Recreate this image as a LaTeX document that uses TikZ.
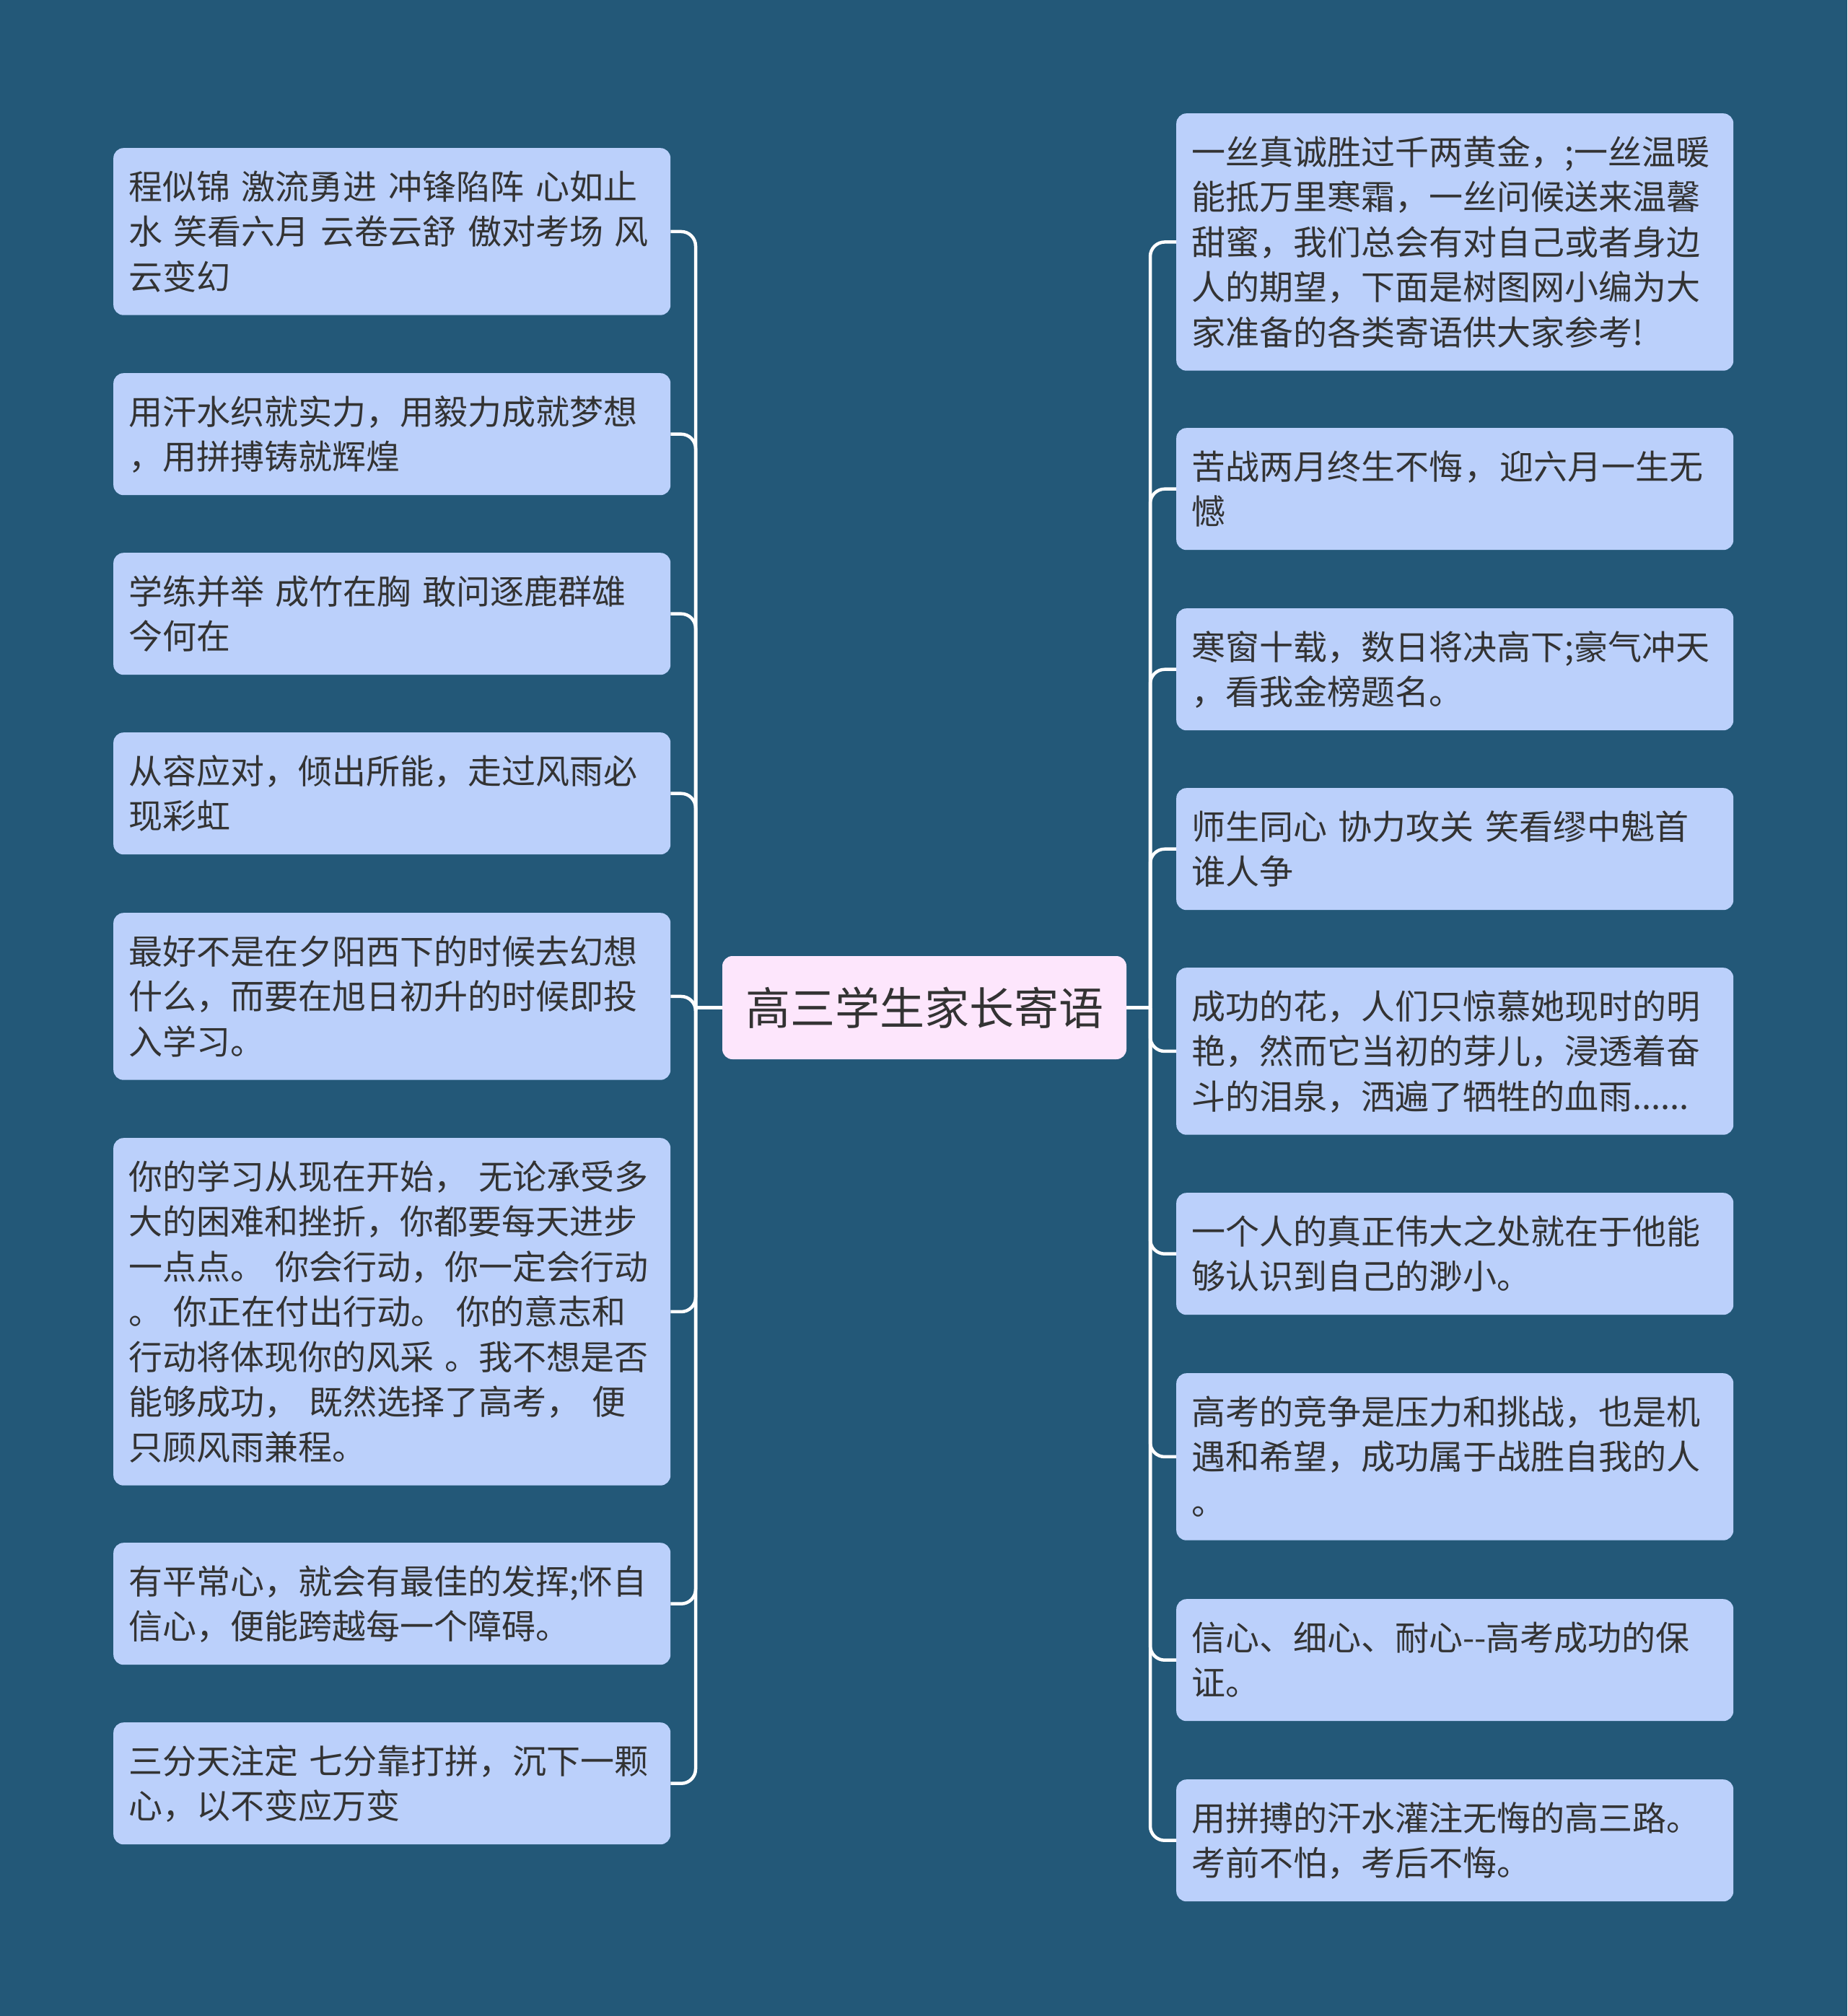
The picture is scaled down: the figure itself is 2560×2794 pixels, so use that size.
\documentclass[tikz,border=0pt]{standalone}
\usepackage{fontspec}
\setmainfont{Noto Sans CJK SC}
\setlength\parindent{0pt}
\definecolor{bg}{HTML}{235878}
\definecolor{leafc}{HTML}{BBD0FB}
\definecolor{rootc}{HTML}{FDE6FC}
\definecolor{txt}{HTML}{333333}
\newcommand\kst{\rule[-5.6pt]{0pt}{47pt}}
\tikzset{
  leaf/.style={fill=leafc, rounded corners=14pt, text=txt,
    font=\fontsize{47pt}{62.5pt}\selectfont, text width=730pt,
    inner xsep=21pt, inner ysep=0pt, align=left, anchor=north west,
    minimum height=#1},
  rootnode/.style={fill=rootc, rounded corners=14pt, text=txt,
    font=\fontsize{62pt}{74pt}\selectfont, minimum width=560pt,
    minimum height=143pt, inner sep=0pt},
  conn/.style={draw=white, line width=4.5pt, rounded corners=20pt}
}
\begin{document}
\begin{tikzpicture}[x=1pt,y=-1pt]
\fill[bg] (0,0) rectangle (2560,2794);
\useasboundingbox (0,0) rectangle (2560,2794);

\node[rootnode] (c) at (1281,1396.5) {高三学生家长寄语};

% left branch
\node[leaf=231.5pt] (L1) at (157,205) {\kst\mbox{程似锦 激流勇进 冲锋陷阵 心如止}\\\mbox{水 笑看六月 云卷云舒 傲对考场 风}\\云变幻\kst};
\node[leaf=169pt] (L2) at (157,517) {\kst 用汗水织就实力，用毅力成就梦想\\，用拼搏铸就辉煌\kst};
\node[leaf=169pt] (L3) at (157,766) {\kst\mbox{学练并举 成竹在胸 敢问逐鹿群雄}\\今何在\kst};
\node[leaf=169pt] (L4) at (157,1015) {\kst 从容应对，倾出所能，走过风雨必\\现彩虹\kst};
\node[leaf=231.5pt] (L5) at (157,1265) {\kst 最好不是在夕阳西下的时候去幻想\\什么，而要在旭日初升的时候即投\\入学习。\kst};
\node[leaf=481.5pt] (L6) at (157,1577) {\kst\mbox{你的学习从现在开始， 无论承受多}\\大的困难和挫折，你都要每天进步\\\mbox{一点点。 你会行动，你一定会行动}\\\mbox{。 你正在付出行动。 你的意志和}\\\mbox{行动将体现你的风采 。我不想是否}\\\mbox{能够成功， 既然选择了高考， 便}\\只顾风雨兼程。\kst};
\node[leaf=169pt] (L7) at (157,2138) {\kst 有平常心，就会有最佳的发挥;怀自\\信心，便能跨越每一个障碍。\kst};
\node[leaf=169pt] (L8) at (157,2387) {\kst\mbox{三分天注定 七分靠打拼，沉下一颗}\\心，以不变应万变\kst};

% right branch
\node[leaf=356.5pt] (R1) at (1630,157) {\kst 一丝真诚胜过千两黄金，;一丝温暖\\能抵万里寒霜，一丝问候送来温馨\\甜蜜，我们总会有对自己或者身边\\人的期望，下面是树图网小编为大\\家准备的各类寄语供大家参考!\kst};
\node[leaf=169pt] (R2) at (1630,593) {\kst\mbox{苦战两月终生不悔\hspace{2pt}，\hspace{2pt}迎六月一生无}\\憾\kst};
\node[leaf=169pt] (R3) at (1630,843) {\kst 寒窗十载，数日将决高下;豪气冲天\\，看我金榜题名。\kst};
\node[leaf=169pt] (R4) at (1630,1092) {\kst\mbox{师生同心 协力攻关 笑看缪中魁首}\\谁人争\kst};
\node[leaf=231.5pt] (R5) at (1630,1341) {\kst 成功的花，人们只惊慕她现时的明\\艳，然而它当初的芽儿，浸透着奋\\斗的泪泉，洒遍了牺牲的血雨......\kst};
\node[leaf=169pt] (R6) at (1630,1653) {\kst 一个人的真正伟大之处就在于他能\\够认识到自己的渺小。\kst};
\node[leaf=231.5pt] (R7) at (1630,1903) {\kst 高考的竞争是压力和挑战，也是机\\遇和希望，成功属于战胜自我的人\\。\kst};
\node[leaf=169pt] (R8) at (1630,2216) {\kst 信心、细心、耐心-{}-高考成功的保\\证。\kst};
\node[leaf=169pt] (R9) at (1630,2466) {\kst 用拼搏的汗水灌注无悔的高三路。\\考前不怕，考后不悔。\kst};

% connectors
\coordinate (lj) at (964,1396.5);
\coordinate (rj) at (1594,1396.5);
\draw[conn] (c.west) -- (lj);
\draw[conn] (c.east) -- (rj);
\foreach \n in {L1,L2,L3,L4,L5,L6,L7,L8}
  \draw[conn] (lj) |- (\n.east);
\foreach \n in {R1,R2,R3,R4,R5,R6,R7,R8,R9}
  \draw[conn] (rj) |- (\n.west);
\end{tikzpicture}
\end{document}
